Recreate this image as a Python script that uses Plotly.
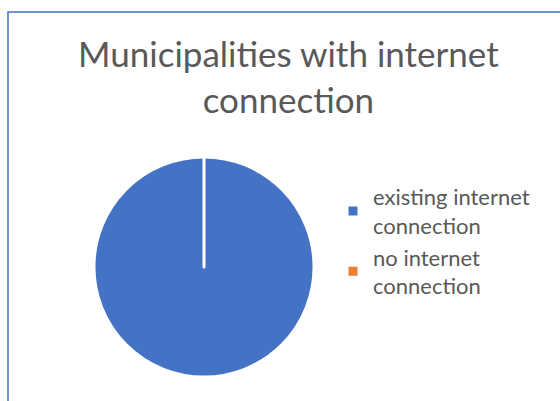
import plotly.graph_objects as go

# Share of municipalities by internet connectivity (percent)
labels = ["existing internet<br>connection", "no internet<br>connection"]
values = [100, 0]
colors = ["#4472C4", "#ED7D31"]

W, H = 560, 401
TEXT = "#595959"

fig = go.Figure(
    go.Pie(
        labels=labels,
        values=values,
        sort=False,
        direction="clockwise",
        rotation=0,
        marker=dict(colors=colors, line=dict(color="white", width=3)),
        textinfo="none",
        hoverinfo="label+percent",
        domain=dict(x=[94 / W, 314 / W], y=[(H - 377) / H, (H - 157) / H]),
    )
)

fig.update_layout(
    width=W,
    height=H,
    margin=dict(l=0, r=0, t=0, b=0),
    paper_bgcolor="white",
    plot_bgcolor="white",
    title=dict(
        text="Municipalities with internet<br>connection",
        x=0.515,
        xanchor="center",
        y=1 - 67 / H,
        yanchor="top",
        font=dict(family="Lato", size=35, color=TEXT),
    ),
    legend=dict(
        x=333 / W,
        xanchor="left",
        y=1 - 176 / H,
        yanchor="top",
        font=dict(family="Lato", size=22, color=TEXT),
        bgcolor="rgba(0,0,0,0)",
        itemwidth=30,
    ),
    shapes=[
        dict(
            type="rect",
            xref="paper",
            yref="paper",
            x0=8 / W,
            x1=1.05,
            y0=-0.05,
            y1=1 - 12 / H,
            line=dict(color="#4472C4", width=1.5),
            fillcolor="rgba(0,0,0,0)",
            layer="below",
        )
    ],
)

fig.write_html("out.html")
